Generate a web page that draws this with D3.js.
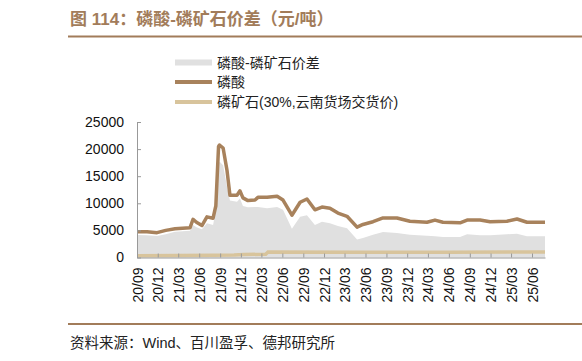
<!DOCTYPE html>
<html>
<head>
<meta charset="utf-8">
<script src="https://cdn.jsdelivr.net/npm/d3@7"></script>
<style>
    body { margin: 0; background: #fff; }
    svg { display: block; font-family: "Liberation Sans", "Noto Sans CJK SC", sans-serif; }
</style>
</head>
<body>
<svg id="chart"></svg>
<script>
// dates shared by 磷酸 and the spread
const dates = [
    '2020-09-01', '2020-10-15', '2020-11-28', '2021-01-05', '2021-02-15', '2021-03-20',
    '2021-04-22', '2021-05-05', '2021-05-20', '2021-06-13', '2021-07-05', '2021-08-01',
    '2021-08-09', '2021-08-13', '2021-08-25', '2021-08-29', '2021-09-14', '2021-10-01',
    '2021-10-14', '2021-11-14', '2021-11-27', '2021-12-10', '2022-01-01', '2022-02-01',
    '2022-02-14', '2022-03-26', '2022-05-09', '2022-06-04', '2022-07-13', '2022-08-18',
    '2022-09-17', '2022-10-22', '2022-11-22', '2022-12-27', '2023-01-31', '2023-03-12',
    '2023-04-25', '2023-05-21', '2023-07-04', '2023-08-17', '2023-10-17', '2023-12-13',
    '2024-02-26', '2024-04-01', '2024-05-06', '2024-07-20', '2024-08-20', '2024-10-16',
    '2024-11-29', '2025-02-11', '2025-03-27', '2025-05-10', '2025-07-28'
];
const acid = [
    4760, 4750, 4580, 5000, 5300, 5400,
    5500, 7050, 6500, 5900, 7500, 7250,
    8800, 9500, 20500, 20750, 20200, 16100,
    11500, 11500, 12300, 11000, 10500, 10600,
    11100, 11100, 11300, 10600, 7800, 10200,
    10800, 8800, 9300, 9100, 8200, 7600,
    5600, 6100, 6600, 7300, 7300, 6700,
    6500, 6900, 6500, 6400, 6900, 6900,
    6600, 6700, 7100, 6500, 6500
];
const spread = [
    4150, 4100, 3960, 4300, 4760, 4850,
    4950, 6000, 5600, 5200, 6300, 6000,
    7840, 8500, 17000, 17700, 17000, 13100,
    10500, 10300, 10900, 9500, 9260, 9300,
    9300, 9100, 9300, 8800, 5300, 7500,
    7800, 6000, 6600, 6300, 5800, 5400,
    3300, 3600, 4200, 4700, 4500, 4200,
    4000, 3900, 3800, 3800, 4300, 4100,
    4100, 4300, 4400, 3900, 3900
];
// 磷矿石 (30%, 云南货场交货价)
const rockDates = ['2020-09-01', '2021-03-01', '2021-08-01', '2021-11-01', '2021-12-15',
    '2022-03-20', '2022-03-30', '2023-06-01', '2024-06-01', '2025-07-28'];
const rock = [300, 350, 400, 450, 550, 600, 1000, 980, 980, 1000];

const yTicks = [0, 5000, 10000, 15000, 20000, 25000];
const xTickDates = ['2020-09-01', '2020-12-01', '2021-03-01', '2021-06-01', '2021-09-01',
    '2021-12-01', '2022-03-01', '2022-06-01', '2022-09-01', '2022-12-01', '2023-03-01',
    '2023-06-01', '2023-09-01', '2023-12-01', '2024-03-01', '2024-06-01', '2024-09-01',
    '2024-12-01', '2025-03-01', '2025-06-01'];
const seriesNames = ['磷酸-磷矿石价差', '磷酸', '磷矿石(30%,云南货场交货价)'];
const titleText = '图 114：磷酸-磷矿石价差（元/吨）';
const sourceText = '资料来源：Wind、百川盈孚、德邦研究所';

const W = 582, H = 361;
const brown = '#a8825c', tan = '#d8c49c', grey = '#e0e0e0', accent = '#a27c5a';

const parse = d3.timeParse('%Y-%m-%d');
const acidData = dates.map((d, i) => ({ date: parse(d), acid: acid[i], spread: spread[i] }));
const rockData = rockDates.map((d, i) => ({ date: parse(d), value: rock[i] }));

const svg = d3.select('#chart').attr('width', W).attr('height', H);

const x = d3.scaleTime()
    .domain([parse('2020-09-01'), parse('2025-07-28')])
    .range([137, 545]);
const y = d3.scaleLinear().domain([0, 25000]).range([257.5, 122]);

// title + rules
svg.append('text')
    .attr('x', 70).attr('y', 25)
    .attr('fill', accent)
    .style('font-size', '17px')
    .style('font-weight', 'bold')
    .text(titleText);
svg.append('line').attr('x1', 68).attr('x2', W).attr('y1', 36.5).attr('y2', 36.5)
    .attr('stroke', accent).attr('stroke-width', 2);
svg.append('line').attr('x1', 68).attr('x2', W).attr('y1', 324).attr('y2', 324)
    .attr('stroke', accent).attr('stroke-width', 2);
svg.append('text')
    .attr('x', 70).attr('y', 348)
    .attr('fill', '#222')
    .style('font-size', '14.5px')
    .text(sourceText);

// legend
const legend = svg.append('g').attr('transform', 'translate(175,0)');
legend.append('rect').attr('x', 0).attr('y', 59.5).attr('width', 37).attr('height', 6).attr('fill', grey);
legend.append('line').attr('x1', 0).attr('x2', 37).attr('y1', 82).attr('y2', 82)
    .attr('stroke', brown).attr('stroke-width', 4);
legend.append('line').attr('x1', 0).attr('x2', 37).attr('y1', 102).attr('y2', 102)
    .attr('stroke', tan).attr('stroke-width', 4);
[62.5, 82, 102].forEach((cy, i) => {
    legend.append('text')
        .attr('x', 42).attr('y', cy)
        .attr('dy', '0.36em')
        .attr('fill', '#222')
        .style('font-size', '14px')
        .text(seriesNames[i]);
});

// spread area
svg.append('path')
    .datum(acidData)
    .attr('fill', grey)
    .attr('d', d3.area().x(d => x(d.date)).y0(y(0)).y1(d => y(d.spread)));

// rock line
svg.append('path')
    .datum(rockData)
    .attr('fill', 'none')
    .attr('stroke', tan)
    .attr('stroke-width', 3.5)
    .attr('d', d3.line().x(d => x(d.date)).y(d => y(d.value)));

// acid line
svg.append('path')
    .datum(acidData)
    .attr('fill', 'none')
    .attr('stroke', brown)
    .attr('stroke-width', 3.5)
    .attr('stroke-linejoin', 'round')
    .attr('d', d3.line().x(d => x(d.date)).y(d => y(d.acid)));

// axes
const yAxis = svg.append('g')
    .attr('transform', 'translate(137,0)')
    .call(d3.axisLeft(y).tickValues(yTicks).tickSizeInner(-4).tickSizeOuter(0).tickPadding(13).tickFormat(d3.format('d')));
yAxis.selectAll('text').style('font-size', '14px').attr('fill', '#111');

const xAxis = svg.append('g')
    .attr('transform', `translate(0,${y(0)})`)
    .call(d3.axisBottom(x).tickValues(xTickDates.map(parse)).tickSizeInner(-4).tickSizeOuter(0).tickFormat(d3.timeFormat('%y/%m')));
xAxis.selectAll('text')
    .style('font-size', '14px')
    .attr('fill', '#111')
    .attr('text-anchor', 'end')
    .attr('transform', 'rotate(-90)')
    .attr('x', -10).attr('y', 0).attr('dy', '0.36em');

svg.selectAll('.domain, .tick line').attr('stroke', '#999');
</script>
</body>
</html>
